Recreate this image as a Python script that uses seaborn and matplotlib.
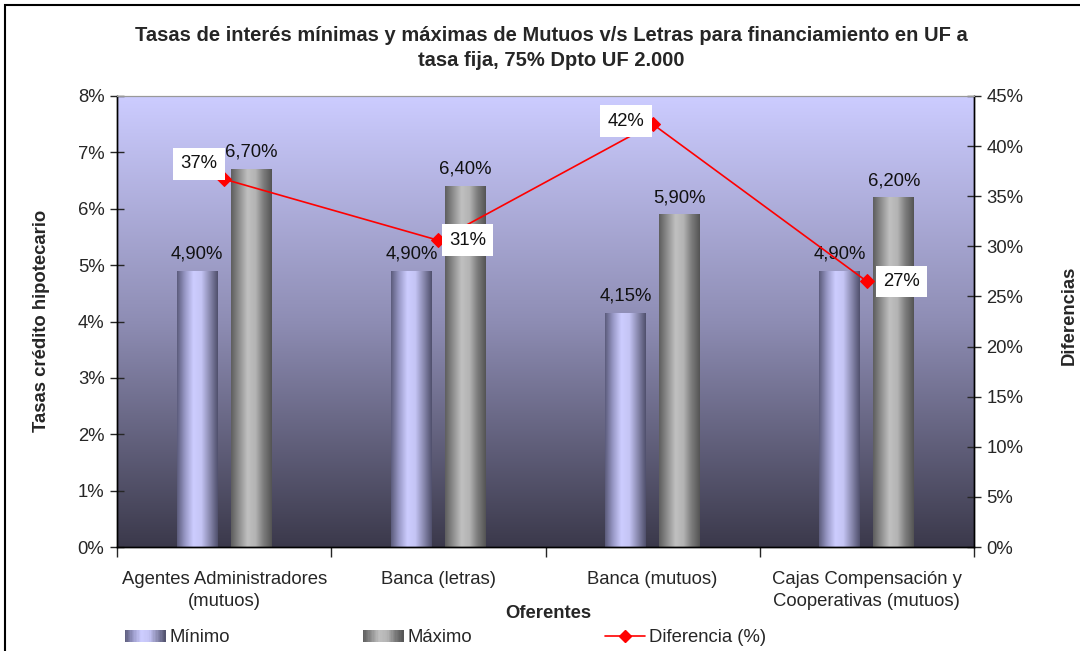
import numpy as np
import pandas as pd
import seaborn as sns
import matplotlib.pyplot as plt
from matplotlib.colors import LinearSegmentedColormap
from matplotlib.patches import Rectangle
from matplotlib.lines import Line2D
from matplotlib.legend_handler import HandlerBase
from matplotlib.ticker import FuncFormatter

# datos del grafico
oferentes = ["Agentes Administradores\n(mutuos)", "Banca (letras)", "Banca (mutuos)",
             "Cajas Compensación y\nCooperativas (mutuos)"]
minimo = [4.90, 4.90, 4.15, 4.90]
maximo = [6.70, 6.40, 5.90, 6.20]
diferencia = [36.7, 30.6, 42.2, 26.5]
series = ["Mínimo", "Máximo"]
ticks_izq = [0, 1, 2, 3, 4, 5, 6, 7, 8]
ticks_der = [0, 5, 10, 15, 20, 25, 30, 35, 40, 45]

df = pd.DataFrame({
    "Oferente": oferentes * 2,
    "Serie": [series[0]] * len(minimo) + [series[1]] * len(maximo),
    "Tasa": minimo + maximo,
})

sns.set_style("white")
plt.rcParams["font.family"] = ["Liberation Sans", "DejaVu Sans"]
FS = 13.3

# colores (degradados tipo Excel)
col_min = ["#5c5c7c", "#9a9ac8", "#cdcdff", "#c4c4f4", "#8a8ab0", "#50506c"]
col_max = ["#5e5e5e", "#8e8e8e", "#c0c0c0", "#b4b4b4", "#7c7c7c", "#545454"]
cmap_min = LinearSegmentedColormap.from_list("cmin", col_min)
cmap_max = LinearSegmentedColormap.from_list("cmax", col_max)
cmap_fondo = LinearSegmentedColormap.from_list("fondo", ["#3b394b", "#8e8db4", "#ccccff"])

fig = plt.figure(figsize=(10.8, 6.51), dpi=100)
ax = fig.add_axes([117 / 1080, 1 - 547 / 651, (974 - 117) / 1080, (547 - 96) / 651])

# fondo degradado del area de trazado
grad = np.linspace(0, 1, 256).reshape(-1, 1)
ax.imshow(grad, cmap=cmap_fondo, origin="lower", aspect="auto",
          extent=(-0.5, 3.5, 0, 8), zorder=0)

sns.barplot(data=df, x="Oferente", y="Tasa", hue="Serie", hue_order=series,
            width=0.504, gap=0.242, ax=ax, legend=False, zorder=2)

# degradado horizontal dentro de cada barra (cilindro)
hgrad = np.linspace(0, 1, 128).reshape(1, -1)
for cont, cm in zip(ax.containers, [cmap_min, cmap_max]):
    for bar in cont:
        x0, w, h = bar.get_x(), bar.get_width(), bar.get_height()
        im = ax.imshow(hgrad, cmap=cm, aspect="auto", extent=(x0, x0 + w, 0, h), zorder=2)
        im.set_clip_path(bar)
        bar.set_facecolor("none")
        bar.set_edgecolor("none")

for cont, vals in zip(ax.containers, [minimo, maximo]):
    etiquetas = [f"{v:.2f}".replace(".", ",") + "%" for v in vals]
    ax.bar_label(cont, labels=etiquetas, padding=6, fontsize=FS, color="#111111")

ax.set_xlim(-0.5, 3.5)
ax.set_ylim(0, 8)
ax.set_yticks(ticks_izq)
ax.yaxis.set_major_formatter(FuncFormatter(lambda v, p: f"{v:.0f}%"))
ax.tick_params(axis="y", direction="inout", length=10, width=1, labelsize=FS, pad=4)

ax.set_xticks(np.arange(-0.5, 4, 1))
ax.set_xticklabels([])
ax.set_xticks(range(len(oferentes)), minor=True)
ax.set_xticklabels(oferentes, minor=True, fontsize=FS, linespacing=1.4)
ax.tick_params(axis="x", which="major", direction="out", length=7, width=1, bottom=True)
ax.tick_params(axis="x", which="minor", length=0, pad=17)
ax.set_xlabel("")
ax.set_ylabel("")

# linea de diferencias en eje secundario
ax2 = ax.twinx()
sns.lineplot(x=np.arange(len(diferencia)), y=diferencia, ax=ax2, color="red",
             marker="D", markersize=7, markeredgecolor="red", linewidth=1.2)
ax2.set_ylim(0, 45)
ax2.set_yticks(ticks_der)
ax2.yaxis.set_major_formatter(FuncFormatter(lambda v, p: f"{v:.0f}%"))
ax2.tick_params(axis="y", direction="inout", length=10, width=1, labelsize=FS, pad=4)

desp = [(-18, 11), (21, 0), (-19, 2), (25, 0)]
for i, (v, d) in enumerate(zip(diferencia, desp)):
    ax2.annotate(f"{int(v + 0.5)}%", (i, v), xytext=d, textcoords="offset points",
                 ha="center", va="center", fontsize=FS, color="#111111",
                 bbox=dict(boxstyle="square,pad=0.4", fc="white", ec="none"))

for a in (ax, ax2):
    for s in ["left", "right", "bottom"]:
        a.spines[s].set_color("black")
        a.spines[s].set_linewidth(1)
    a.spines["top"].set_color("#999999")

# titulos
fig.text(551 / 1080, 1 - 48 / 651,
         "Tasas de interés mínimas y máximas de Mutuos v/s Letras para financiamiento en UF a\ntasa fija, 75% Dpto UF 2.000",
         ha="center", va="center", fontsize=14.5, fontweight="bold", linespacing=1.4)
fig.text(548 / 1080, 1 - 614 / 651, "Oferentes", ha="center", va="center",
         fontsize=FS, fontweight="bold")
fig.text(42 / 1080, 1 - 321 / 651, "Tasas crédito hipotecario", ha="center", va="center",
         rotation=90, fontsize=FS, fontweight="bold")
fig.text(1069 / 1080, 1 - 315 / 651, "Diferencias", ha="center", va="center",
         rotation=90, fontsize=FS, fontweight="bold")


class Degradado(HandlerBase):
    def __init__(self, cmap):
        super().__init__()
        self.cmap = cmap

    def create_artists(self, legend, orig_handle, xdescent, ydescent, width, height, fontsize, trans):
        n = 30
        arts = []
        for k in range(n):
            r = Rectangle((-xdescent + width * k / n, -ydescent), width / n + 0.3, height,
                          facecolor=self.cmap((k + 0.5) / n), edgecolor="none", transform=trans)
            arts.append(r)
        return arts


h_min = Rectangle((0, 0), 1, 1)
h_max = Rectangle((0, 0), 1, 1)
h_dif = Line2D([], [], color="red", marker="D", markersize=6, linewidth=1.2)
fig.legend([h_min, h_max, h_dif], ["Mínimo", "Máximo", "Diferencia (%)"],
           handler_map={h_min: Degradado(cmap_min), h_max: Degradado(cmap_max)},
           loc="center left", bbox_to_anchor=(125 / 1080, 1 - 638 / 651), ncol=3,
           frameon=False, fontsize=FS, handlelength=2.2, handleheight=0.55,
           handletextpad=0.2, columnspacing=7.2, borderpad=0, borderaxespad=0)

# borde del grafico
fig.add_artist(Rectangle((5 / 1080, -0.1), 1.2, 1 - 5 / 651 + 0.1, transform=fig.transFigure,
                         fill=False, edgecolor="black", linewidth=1.5))

fig.savefig("out.png", dpi=100)
